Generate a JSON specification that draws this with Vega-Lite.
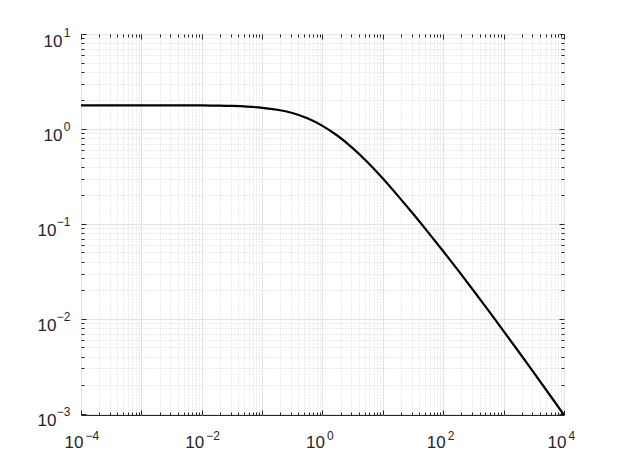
{
  "$schema": "https://vega.github.io/schema/vega-lite/v6.json",
  "width": 483,
  "height": 381,
  "autosize": {"type": "none"},
  "padding": {"left": 81, "top": 34, "right": 59, "bottom": 52},
  "config": {
    "view": {"stroke": "#262626", "strokeWidth": 1},
    "axis": {
      "domain": false,
      "title": null,
      "labelFont": "Liberation Sans",
      "labelColor": "#262626",
      "tickColor": "#262626",
      "tickWidth": 1,
      "labelFlush": false,
      "labelOverlap": false
    }
  },
  "datasets": {
    "curve": [
      {"x": 0.0001, "y": 1.7742},
      {"x": 0.00031623, "y": 1.7738},
      {"x": 0.001, "y": 1.7726},
      {"x": 0.0031623, "y": 1.7693},
      {"x": 0.01, "y": 1.7669},
      {"x": 0.017783, "y": 1.7588},
      {"x": 0.031623, "y": 1.7458},
      {"x": 0.056234, "y": 1.7183},
      {"x": 0.1, "y": 1.6703},
      {"x": 0.17783, "y": 1.5911},
      {"x": 0.31623, "y": 1.4696},
      {"x": 0.56234, "y": 1.295},
      {"x": 1, "y": 1.0782},
      {"x": 1.7783, "y": 0.8476},
      {"x": 3.1623, "y": 0.6288},
      {"x": 5.6234, "y": 0.4432},
      {"x": 10, "y": 0.2999},
      {"x": 17.783, "y": 0.1971},
      {"x": 31.623, "y": 0.1276},
      {"x": 56.234, "y": 0.08141},
      {"x": 100, "y": 0.05144},
      {"x": 177.83, "y": 0.03219},
      {"x": 316.23, "y": 0.01988},
      {"x": 562.34, "y": 0.012196},
      {"x": 1000, "y": 0.007425},
      {"x": 1778.3, "y": 0.004496},
      {"x": 3162.3, "y": 0.002708},
      {"x": 5623.4, "y": 0.001624},
      {"x": 10000, "y": 0.00097}
    ]
  },
  "data": {"name": "curve"},
  "layer": [
    {
      "mark": {"type": "point", "opacity": 0},
      "encoding": {
        "x": {"field": "x", "type": "quantitative",
          "scale": {"type": "log", "domain": [0.0001, 10000], "nice": false},
          "axis": {"orient": "bottom", "labels": false, "ticks": true, "tickSize": -3, "grid": true,
            "gridColor": "#d6d6d6", "gridDash": [1, 2], "gridWidth": 1,
            "values": [0.0002,0.0003,0.0004,0.0005,0.0006,0.0007,0.0008,0.0009,0.002,0.003,0.004,0.005,0.006,0.007,0.008,0.009,0.02,0.03,0.04,0.05,0.06,0.07,0.08,0.09,0.2,0.3,0.4,0.5,0.6,0.7,0.8,0.9,2,3,4,5,6,7,8,9,20,30,40,50,60,70,80,90,200,300,400,500,600,700,800,900,2000,3000,4000,5000,6000,7000,8000,9000]}},
        "y": {"field": "y", "type": "quantitative",
          "scale": {"type": "log", "domain": [0.00097, 10], "nice": false, "zero": false},
          "axis": {"orient": "left", "labels": false, "ticks": true, "tickSize": -3, "grid": true,
            "gridColor": "#d6d6d6", "gridDash": [1, 2], "gridWidth": 1,
            "values": [0.002,0.003,0.004,0.005,0.006,0.007,0.008,0.009,0.02,0.03,0.04,0.05,0.06,0.07,0.08,0.09,0.2,0.3,0.4,0.5,0.6,0.7,0.8,0.9,2,3,4,5,6,7,8,9]}}
      }
    },
    {
      "mark": {"type": "point", "opacity": 0},
      "encoding": {
        "x": {"field": "x", "type": "quantitative",
          "axis": {"orient": "top", "labels": false, "ticks": true, "tickSize": -3, "grid": false,
            "values": [0.0002,0.0003,0.0004,0.0005,0.0006,0.0007,0.0008,0.0009,0.002,0.003,0.004,0.005,0.006,0.007,0.008,0.009,0.02,0.03,0.04,0.05,0.06,0.07,0.08,0.09,0.2,0.3,0.4,0.5,0.6,0.7,0.8,0.9,2,3,4,5,6,7,8,9,20,30,40,50,60,70,80,90,200,300,400,500,600,700,800,900,2000,3000,4000,5000,6000,7000,8000,9000]}},
        "y": {"field": "y", "type": "quantitative",
          "axis": {"orient": "right", "labels": false, "ticks": true, "tickSize": -3, "grid": false,
            "values": [0.002,0.003,0.004,0.005,0.006,0.007,0.008,0.009,0.02,0.03,0.04,0.05,0.06,0.07,0.08,0.09,0.2,0.3,0.4,0.5,0.6,0.7,0.8,0.9,2,3,4,5,6,7,8,9]}}
      }
    },
    {
      "mark": {"type": "point", "opacity": 0},
      "encoding": {
        "x": {"field": "x", "type": "quantitative",
          "axis": {"orient": "top", "labels": false, "ticks": true, "tickSize": -5, "grid": false,
            "values": [0.0001,0.001,0.01,0.1,1,10,100,1000,10000]}},
        "y": {"field": "y", "type": "quantitative",
          "axis": {"orient": "right", "labels": false, "ticks": true, "tickSize": -5, "grid": false,
            "values": [0.001,0.01,0.1,1,10]}}
      }
    },
    {
      "mark": {"type": "point", "opacity": 0},
      "encoding": {
        "x": {"field": "x", "type": "quantitative",
          "axis": {"orient": "bottom", "labels": false, "ticks": true, "tickSize": -5, "grid": true,
            "gridColor": "#e3e3e3", "gridWidth": 1,
            "values": [0.0001,0.001,0.01,0.1,1,10,100,1000,10000]}},
        "y": {"field": "y", "type": "quantitative",
          "axis": {"orient": "left", "labels": false, "ticks": true, "tickSize": -5, "grid": true,
            "gridColor": "#e3e3e3", "gridWidth": 1,
            "values": [0.001,0.01,0.1,1,10]}}
      }
    },
    {
      "mark": {"type": "point", "opacity": 0},
      "encoding": {
        "x": {"field": "x", "type": "quantitative",
          "axis": {"orient": "bottom", "ticks": false, "grid": false,
            "labelFontSize": 12, "labelAlign": "left", "labelBaseline": "alphabetic",
            "labelPadding": 24, "labelOffset": 4,
            "values": [0.0001,0.01,1,100,10000],
            "labelExpr": "replace(''+round(log(datum.value)/LN10),'-','−')"}},
        "y": {"field": "y", "type": "quantitative",
          "axis": {"orient": "left", "ticks": false, "grid": false,
            "labelFontSize": 12, "labelAlign": "right", "labelBaseline": "alphabetic",
            "labelPadding": 11, "labelOffset": 2,
            "values": [0.001,0.01,0.1,1,10],
            "labelExpr": "replace(''+round(log(datum.value)/LN10),'-','−')"}}
      }
    },
    {
      "mark": {"type": "line", "color": "#000000", "strokeWidth": 2.2, "interpolate": "monotone", "clip": true},
      "encoding": {
        "x": {"field": "x", "type": "quantitative",
          "axis": {"orient": "bottom", "ticks": false, "grid": false,
            "labelFontSize": 17, "labelAlign": "right", "labelBaseline": "alphabetic",
            "labelPadding": 32, "labelOffset": 2,
            "values": [0.0001,0.01,1,100,10000],
            "labelExpr": "'10'"}},
        "y": {"field": "y", "type": "quantitative",
          "axis": {"orient": "left", "ticks": false, "grid": false,
            "labelFontSize": 17, "labelAlign": "right", "labelBaseline": "alphabetic",
            "labelPadding": {"condition": {"test": "datum.value < 1", "value": 25}, "value": 19},
            "labelOffset": 12,
            "values": [0.001,0.01,0.1,1,10],
            "labelExpr": "'10'"}}
      }
    }
  ],
  "resolve": {"axis": {"x": "independent", "y": "independent"}}
}
